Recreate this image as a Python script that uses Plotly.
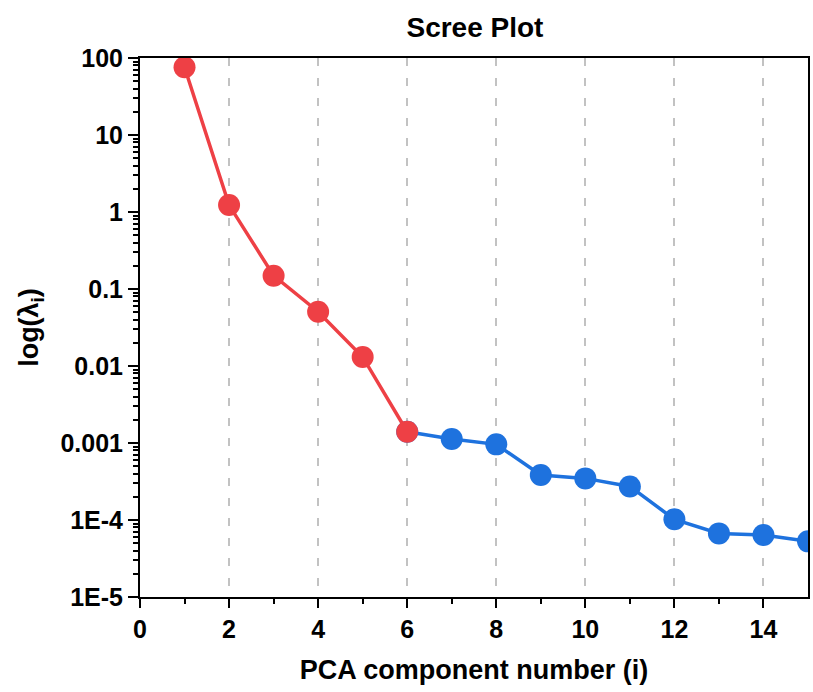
import plotly.graph_objects as go

# Eigenvalues of the principal components
components = list(range(1, 16))
eigenvalues = [75.7, 1.23, 0.149, 0.0507, 0.0131, 0.0014, 0.00113, 0.00096,
               3.84e-4, 3.47e-4, 2.73e-4, 1.02e-4, 6.7e-5, 6.38e-5, 5.28e-5]

# Components retained (red) versus the tail (blue); component 6 is shared
retained_x = components[:6]
retained_y = eigenvalues[:6]
tail_x = components[5:]
tail_y = eigenvalues[5:]

y_tick_vals = [1e2, 1e1, 1, 0.1, 0.01, 0.001, 1e-4, 1e-5]
y_tick_text = ["100", "10", "1", "0.1", "0.01", "0.001", "1E-4", "1E-5"]

RED = "#EE4045"
BLUE = "#1E72DE"
FONT = "Liberation Sans, Arial, sans-serif"

fig = go.Figure()
fig.add_trace(go.Scatter(
    x=tail_x, y=tail_y, mode="lines+markers",
    line=dict(color=BLUE, width=3.5),
    marker=dict(color=BLUE, size=22),
    showlegend=False,
))
fig.add_trace(go.Scatter(
    x=retained_x, y=retained_y, mode="lines+markers",
    line=dict(color=RED, width=3.5),
    marker=dict(color=RED, size=22),
    showlegend=False,
))

minor_y = [m * 10 ** e for e in range(-5, 2) for m in range(2, 10)]

fig.update_layout(
    width=813, height=692,
    margin=dict(l=140, r=3, t=58, b=95),
    paper_bgcolor="white", plot_bgcolor="white",
    title=dict(text="<b>Scree Plot</b>", x=0.5842, xanchor="center",
               y=0.961, yanchor="middle",
               font=dict(family=FONT, size=28, color="black")),
    font=dict(family=FONT, color="black"),
)

fig.update_xaxes(
    range=[0, 15], tickmode="linear", tick0=0, dtick=2,
    ticks="outside", ticklen=9, tickwidth=2, tickcolor="black",
    showline=True, linecolor="black", linewidth=2, mirror=True,
    showgrid=True, gridcolor="#C2C2C2", griddash="8px,12px", gridwidth=1.5,
    zeroline=False,
    minor=dict(ticks="outside", ticklen=5, tickwidth=2, tickcolor="black",
               tickmode="array", tickvals=[1, 3, 5, 7, 9, 11, 13], showgrid=False),
    tickfont=dict(family=FONT, size=25, color="black", weight="bold"),
    title=dict(text="<b>PCA component number (i)</b>", standoff=18,
               font=dict(family=FONT, size=27, color="black")),
)

fig.update_yaxes(
    type="log", range=[-5, 2],
    tickmode="array", tickvals=y_tick_vals, ticktext=y_tick_text,
    ticks="outside", ticklen=10, tickwidth=2, tickcolor="black",
    showline=True, linecolor="black", linewidth=2, mirror=True,
    showgrid=False, zeroline=False,
    minor=dict(ticks="outside", ticklen=5, tickwidth=1.5, tickcolor="black",
               tickmode="array", tickvals=minor_y, showgrid=False),
    tickfont=dict(family=FONT, size=25, color="black", weight="bold"),
    title=dict(text="<b>log(λ<sub>i</sub>)</b>", standoff=14,
               font=dict(family=FONT, size=27, color="black")),
)

fig.write_html("out.html")
